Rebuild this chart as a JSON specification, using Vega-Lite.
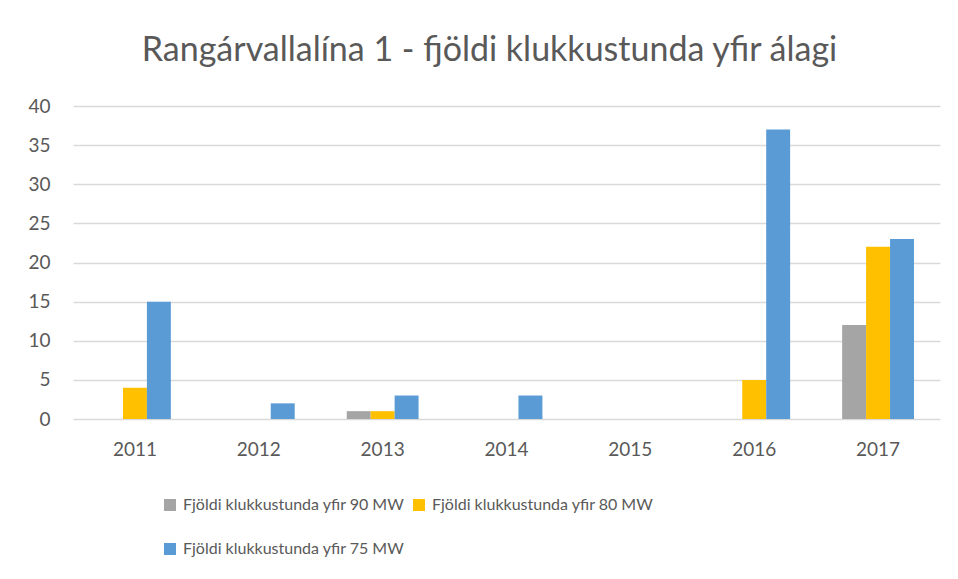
{
  "$schema": "https://vega.github.io/schema/vega-lite/v6.json",
  "width": 867,
  "height": 313,
  "autosize": {"type": "none"},
  "padding": {"left": 73, "top": 106, "right": 18, "bottom": 160},
  "background": "white",
  "title": {
    "text": "Rangárvallalína 1 - fjöldi klukkustunda yfir álagi",
    "font": "Lato",
    "fontSize": 34,
    "fontWeight": "normal",
    "color": "#595959",
    "anchor": "middle",
    "dx": -17,
    "offset": 29
  },
  "data": {
    "values": [
      {"year": "2011", "series": "Fjöldi klukkustunda yfir 90 MW", "value": 0},
      {"year": "2011", "series": "Fjöldi klukkustunda yfir 80 MW", "value": 4},
      {"year": "2011", "series": "Fjöldi klukkustunda yfir 75 MW", "value": 15},
      {"year": "2012", "series": "Fjöldi klukkustunda yfir 90 MW", "value": 0},
      {"year": "2012", "series": "Fjöldi klukkustunda yfir 80 MW", "value": 0},
      {"year": "2012", "series": "Fjöldi klukkustunda yfir 75 MW", "value": 2},
      {"year": "2013", "series": "Fjöldi klukkustunda yfir 90 MW", "value": 1},
      {"year": "2013", "series": "Fjöldi klukkustunda yfir 80 MW", "value": 1},
      {"year": "2013", "series": "Fjöldi klukkustunda yfir 75 MW", "value": 3},
      {"year": "2014", "series": "Fjöldi klukkustunda yfir 90 MW", "value": 0},
      {"year": "2014", "series": "Fjöldi klukkustunda yfir 80 MW", "value": 0},
      {"year": "2014", "series": "Fjöldi klukkustunda yfir 75 MW", "value": 3},
      {"year": "2015", "series": "Fjöldi klukkustunda yfir 90 MW", "value": 0},
      {"year": "2015", "series": "Fjöldi klukkustunda yfir 80 MW", "value": 0},
      {"year": "2015", "series": "Fjöldi klukkustunda yfir 75 MW", "value": 0},
      {"year": "2016", "series": "Fjöldi klukkustunda yfir 90 MW", "value": 0},
      {"year": "2016", "series": "Fjöldi klukkustunda yfir 80 MW", "value": 5},
      {"year": "2016", "series": "Fjöldi klukkustunda yfir 75 MW", "value": 37},
      {"year": "2017", "series": "Fjöldi klukkustunda yfir 90 MW", "value": 12},
      {"year": "2017", "series": "Fjöldi klukkustunda yfir 80 MW", "value": 22},
      {"year": "2017", "series": "Fjöldi klukkustunda yfir 75 MW", "value": 23}
    ]
  },
  "mark": {"type": "bar"},
  "encoding": {
    "x": {
      "field": "year",
      "type": "nominal",
      "scale": {"paddingInner": 0.42, "paddingOuter": 0.21},
      "axis": {
        "title": null,
        "labelAngle": 0,
        "labelFont": "Lato",
        "labelFontSize": 19,
        "labelColor": "#595959",
        "labelPadding": 21,
        "ticks": false,
        "domain": false,
        "grid": false
      }
    },
    "xOffset": {
      "field": "series",
      "type": "nominal",
      "sort": ["Fjöldi klukkustunda yfir 90 MW", "Fjöldi klukkustunda yfir 80 MW", "Fjöldi klukkustunda yfir 75 MW"],
      "scale": {"paddingInner": 0, "paddingOuter": 0}
    },
    "y": {
      "field": "value",
      "type": "quantitative",
      "scale": {"domain": [0, 40]},
      "axis": {
        "title": null,
        "values": [0, 5, 10, 15, 20, 25, 30, 35, 40],
        "labelFont": "Lato",
        "labelFontSize": 19,
        "labelColor": "#595959",
        "labelPadding": 23,
        "ticks": false,
        "domain": false,
        "grid": true,
        "gridColor": "#D9D9D9",
        "gridWidth": 1.5
      }
    },
    "color": {
      "field": "series",
      "type": "nominal",
      "scale": {
        "domain": ["Fjöldi klukkustunda yfir 90 MW", "Fjöldi klukkustunda yfir 80 MW", "Fjöldi klukkustunda yfir 75 MW"],
        "range": ["#A5A5A5", "#FFC000", "#5B9BD5"]
      },
      "legend": {
        "title": null,
        "orient": "none",
        "legendX": 89,
        "legendY": 391,
        "direction": "horizontal",
        "columns": 2,
        "columnPadding": 6,
        "rowPadding": 28,
        "symbolType": "square",
        "symbolSize": 144,
        "symbolStrokeWidth": 0,
        "labelFont": "Lato",
        "labelFontSize": 16,
        "labelColor": "#595959",
        "labelOffset": 5,
        "labelLimit": 400
      }
    }
  },
  "config": {
    "view": {"stroke": null}
  }
}
